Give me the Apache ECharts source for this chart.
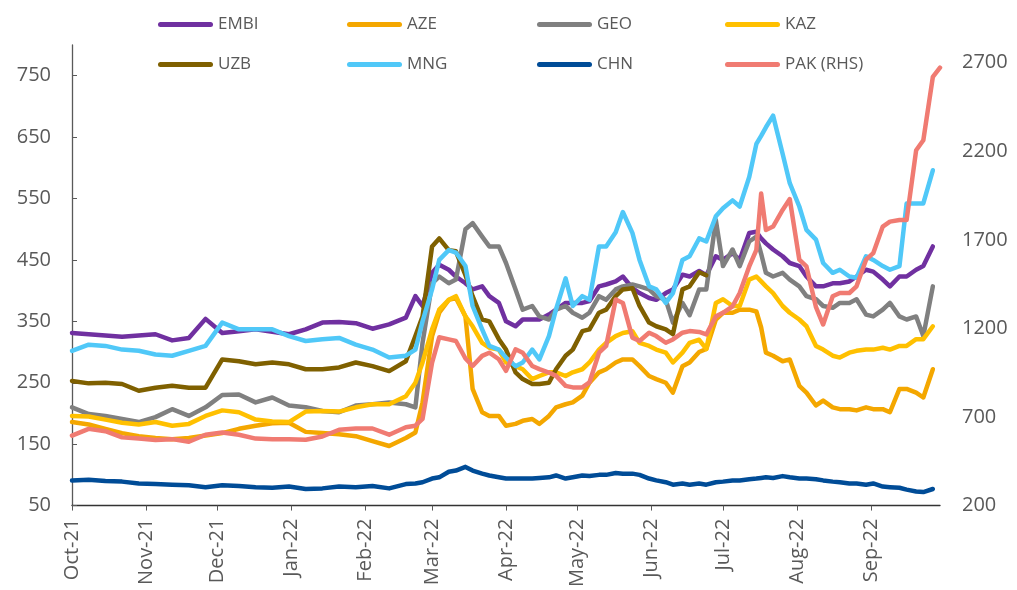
<!DOCTYPE html>
<html>
<head>
<meta charset="utf-8">
<script src="https://cdn.jsdelivr.net/npm/echarts@6/dist/echarts.min.js"></script>
<style>
  html, body { margin: 0; padding: 0; background: #fff; }
  #chart { width: 1017px; height: 590px; }
</style>
</head>
<body>
<div id="chart"></div>
<script>
// observation dates (weekly until mid-Feb, then twice a week)
const dates = [
  '2021-10-01','2021-10-08','2021-10-15','2021-10-22','2021-10-29','2021-11-05','2021-11-12','2021-11-19','2021-11-26','2021-12-03',
  '2021-12-10','2021-12-17','2021-12-24','2021-12-31','2022-01-07','2022-01-14','2022-01-21','2022-01-28','2022-02-04','2022-02-11','2022-02-18',
  '2022-02-22','2022-02-25','2022-03-01','2022-03-04','2022-03-08','2022-03-11','2022-03-15','2022-03-18','2022-03-22','2022-03-25',
  '2022-03-29','2022-04-01','2022-04-05','2022-04-08','2022-04-12','2022-04-15','2022-04-19','2022-04-22','2022-04-26','2022-04-29',
  '2022-05-03','2022-05-06','2022-05-10','2022-05-13','2022-05-17','2022-05-20','2022-05-24','2022-05-27','2022-05-31','2022-06-03',
  '2022-06-07','2022-06-10','2022-06-14','2022-06-17','2022-06-21','2022-06-24','2022-06-28','2022-07-01','2022-07-05','2022-07-08',
  '2022-07-12','2022-07-15','2022-07-17','2022-07-19','2022-07-22','2022-07-26','2022-07-29','2022-08-02','2022-08-05','2022-08-09',
  '2022-08-12','2022-08-16','2022-08-19','2022-08-23','2022-08-26','2022-08-30','2022-09-02','2022-09-06','2022-09-09','2022-09-13',
  '2022-09-16','2022-09-20','2022-09-23','2022-09-27','2022-09-30'
];

const embi = [
  331,329,327,325,327,329,319,323,354,331,
  334,337,333,329,337,348,349,347,338,345,356,
  391,375,429,442,434,423,412,402,407,391,
  380,350,342,353,353,353,361,369,380,380,
  380,383,407,410,415,423,404,396,388,385,
  396,402,426,423,432,425,456,450,461,450,
  494,496,485,477,467,456,445,440,423,407,
  407,412,412,415,423,434,431,418,407,423,
  423,434,440,472,null
];
const aze = [
  186,182,175,168,163,160,158,160,164,168,
  175,180,184,185,170,168,166,163,155,147,160,
  169,218,326,364,385,388,358,240,202,196,
  196,180,183,188,191,183,196,210,215,218,
  229,250,267,272,283,288,288,277,261,256,
  250,234,277,283,300,305,353,364,364,369,
  369,366,340,299,294,285,288,245,234,213,
  221,210,207,207,205,210,207,207,202,240,
  240,234,226,272,null
];
const geo = [
  210,199,196,191,186,194,207,196,210,230,
  231,218,226,213,210,204,202,213,215,218,215,
  210,315,412,423,412,418,500,510,488,472,
  472,445,402,369,375,358,353,369,375,364,
  356,364,391,385,402,407,410,407,402,391,
  385,348,380,360,402,402,515,440,467,440,
  480,488,460,429,423,429,418,407,391,386,
  375,372,380,380,386,361,358,369,380,358,
  353,358,326,407,null
];
const kaz = [
  196,195,190,185,182,186,180,183,196,205,
  202,190,187,186,203,204,203,210,215,215,228,
  250,283,337,369,385,391,358,342,315,307,
  304,283,277,272,256,261,267,267,261,267,
  272,283,304,315,326,331,334,315,310,304,
  299,283,299,315,320,305,380,386,375,375,
  418,423,415,407,396,375,364,353,342,310,
  304,294,291,299,302,304,304,307,304,310,
  310,321,321,342,null
];
const uzb = [
  253,249,250,248,237,242,245,242,242,288,
  285,280,283,280,272,272,275,283,277,269,285,
  326,358,472,485,466,464,425,391,353,350,
  321,304,267,256,248,248,250,272,294,304,
  334,337,364,369,391,402,404,375,348,342,
  337,329,402,407,430,425,null,null,null,null,
  null,null,null,null,null,null,null,null,null,null,
  null,null,null,null,null,null,null,null,null,null,
  null,null,null,null,null
];
const mng = [
  302,312,310,304,302,296,294,302,310,348,
  337,337,337,326,318,321,323,312,304,291,294,
  304,350,402,450,466,462,440,375,337,310,
  304,291,277,283,304,288,326,370,420,375,
  391,385,472,472,495,528,494,450,407,402,
  380,396,450,456,485,480,521,534,547,537,
  585,639,652,666,685,623,575,537,499,483,
  445,429,434,423,421,456,450,440,434,440,
  542,542,542,596,null
];
const chn = [
  91,92,90,89,86,85,84,83,80,83,
  82,80,79,81,77,78,81,80,82,78,85,
  86,88,94,96,105,107,113,107,102,99,
  96,94,94,94,94,95,96,99,94,96,
  99,98,100,100,103,102,102,100,94,91,
  88,84,86,84,86,84,88,89,91,91,
  93,94,95,96,95,98,96,94,94,93,
  91,89,88,86,86,84,86,81,80,79,
  76,73,72,77,null
];
// right-hand scale
const pak = [
  595,633,620,585,578,570,575,560,600,612,
  600,578,575,575,572,590,628,635,635,600,642,
  651,689,1007,1150,1138,1129,1030,988,1045,1063,
  1026,960,1082,1063,988,970,951,932,876,867,
  867,895,1063,1101,1363,1344,1148,1129,1176,1157,
  1119,1138,1176,1185,1180,1166,1269,1288,1325,1400,
  1550,1644,1962,1756,1775,1869,1930,1588,1550,1320,
  1222,1382,1400,1400,1438,1588,1625,1775,1803,1812,
  1812,2206,2262,2620,2672
];

const monthTicks = ['2021-10-01','2021-11-01','2021-12-01','2022-01-01','2022-02-01','2022-03-01',
  '2022-04-01','2022-05-01','2022-06-01','2022-07-01','2022-08-01','2022-09-01'];
const monthNames = ['Jan','Feb','Mar','Apr','May','Jun','Jul','Aug','Sep','Oct','Nov','Dec'];
const leftTicks = [50, 150, 250, 350, 450, 550, 650, 750];
const rightTicks = [200, 700, 1200, 1700, 2200, 2700];

const toTime = (s) => {
  const [y, m, d] = s.split('-').map(Number);
  return new Date(y, m - 1, d).getTime();
};

const FONT = "'Open Sans', sans-serif";
const TEXT = '#595959';

const seriesDefs = [
  { name: 'EMBI', data: embi, color: '#7030A0', axis: 0 },
  { name: 'AZE', data: aze, color: '#F4A700', axis: 0 },
  { name: 'GEO', data: geo, color: '#808080', axis: 0 },
  { name: 'KAZ', data: kaz, color: '#FFC000', axis: 0 },
  { name: 'UZB', data: uzb, color: '#7F6000', axis: 0 },
  { name: 'MNG', data: mng, color: '#50C8F8', axis: 0 },
  { name: 'CHN', data: chn, color: '#004C97', axis: 0 },
  { name: 'PAK (RHS)', data: pak, color: '#F07B72', axis: 1 },
];

const capsule = 'path://M2.5,0 L52.5,0 A2.5,2.5 0 0 1 52.5,5 L2.5,5 A2.5,2.5 0 0 1 2.5,0 Z';

// legend laid out as a 4 x 2 grid, one component per entry
const legendCols = [153, 342, 532, 720];
const legendRows = [11, 51];

const legends = seriesDefs.map((s, i) => ({
  data: [s.name],
  left: legendCols[i % 4],
  top: legendRows[Math.floor(i / 4)],
  icon: capsule,
  itemWidth: 55,
  itemHeight: 5,
  textStyle: { fontFamily: FONT, fontSize: 17, color: TEXT },
}));

const chart = echarts.init(document.getElementById('chart'));

chart.setOption({
  animation: false,
  backgroundColor: '#fff',
  legend: legends,
  grid: { left: 72, right: 77, top: 45, bottom: 83, containLabel: false },
  xAxis: {
    type: 'value',
    min: toTime('2021-10-01'),
    max: toTime('2022-09-30'),
    axisLine: { lineStyle: { color: '#333', width: 1.3 } },
    axisTick: {
      show: true,
      length: 5,
      lineStyle: { color: '#595959' },
      customValues: monthTicks.map(toTime),
    },
    axisLabel: {
      rotate: 90,
      margin: 13,
      fontFamily: FONT,
      fontSize: 20,
      color: TEXT,
      customValues: monthTicks.map(toTime),
      formatter: (v) => {
        const d = new Date(v);
        return monthNames[d.getMonth()] + '-' + String(d.getFullYear()).slice(2);
      },
    },
    splitLine: { show: false },
  },
  yAxis: [
    {
      type: 'value',
      position: 'left',
      min: 50,
      max: 800,
      interval: 100,
      axisLine: { show: true, lineStyle: { color: '#595959', width: 1.3 } },
      axisTick: { show: true, inside: true, length: 5, lineStyle: { color: '#595959' }, customValues: leftTicks },
      axisLabel: { margin: 21, fontFamily: FONT, fontSize: 20, color: TEXT, customValues: leftTicks, formatter: (v) => String(v) },
      splitLine: { show: false },
    },
    {
      type: 'value',
      position: 'right',
      min: 200,
      max: 2800,
      interval: 500,
      axisLine: { show: false },
      axisTick: { show: false },
      axisLabel: { margin: 22, fontFamily: FONT, fontSize: 20, color: TEXT, customValues: rightTicks, formatter: (v) => String(v) },
      splitLine: { show: false },
    },
  ],
  series: seriesDefs.map((s) => ({
    name: s.name,
    type: 'line',
    yAxisIndex: s.axis,
    showSymbol: false,
    symbol: 'none',
    color: s.color,
    lineStyle: { color: s.color, width: 4.5, cap: 'round', join: 'round' },
    data: dates.map((d, i) => [toTime(d), s.data[i]]).filter((p) => p[1] != null),
  })),
});
</script>
</body>
</html>
